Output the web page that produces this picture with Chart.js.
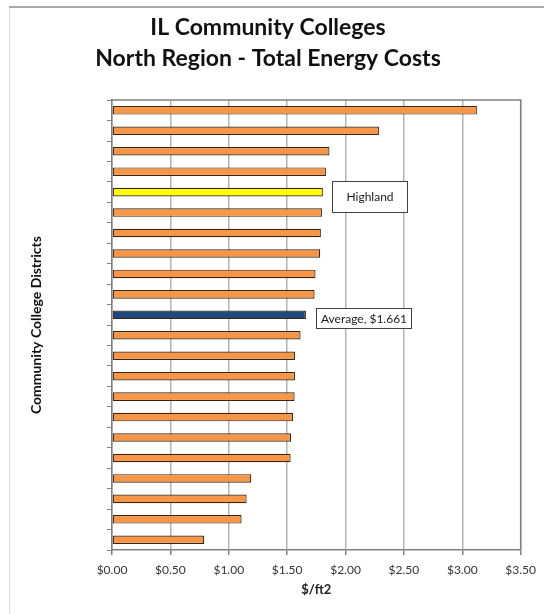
<!DOCTYPE html>
<html>
<head>
<meta charset="utf-8">
<script src="https://cdn.jsdelivr.net/npm/chart.js@4/dist/chart.umd.min.js"></script>
<style>
  html, body { margin: 0; padding: 0; background: #ffffff; }
  #wrap { width: 544px; height: 614px; position: relative; }
</style>
</head>
<body>
<div id="wrap"><canvas id="c" width="544" height="614"></canvas></div>
<script>
// ---- Data ----
const categories = [
  'District 1', 'District 2', 'District 3', 'District 4', 'Highland',
  'District 6', 'District 7', 'District 8', 'District 9', 'District 10',
  'Average', 'District 12', 'District 13', 'District 14', 'District 15',
  'District 16', 'District 17', 'District 18', 'District 19', 'District 20',
  'District 21', 'District 22'
];
const costPerSqFt = [
  3.125, 2.286, 1.863, 1.832, 1.806,
  1.798, 1.789, 1.783, 1.743, 1.735,
  1.661, 1.615, 1.567, 1.567, 1.564,
  1.550, 1.533, 1.530, 1.193, 1.153,
  1.110, 0.790
];
const xTickValues = [0, 0.5, 1.0, 1.5, 2.0, 2.5, 3.0, 3.5];
const annotatedLabels = { 'Highland': 'Highland', 'Average': 'Average, $1.661' };
const chartTitle = ['IL Community Colleges', 'North Region - Total Energy Costs'];
const xAxisTitle = '$/ft2';
const yAxisTitle = 'Community College Districts';

// ---- Styles ----
const ORANGE = '#F79646', YELLOW = '#FFFF00', NAVY = '#1F497D';
const barColors = categories.map(c => c === 'Highland' ? YELLOW : (c === 'Average' ? NAVY : ORANGE));
const FONT = 'Lato, "Open Sans", "Liberation Sans", sans-serif';

const framePlugin = {
  id: 'framePlugin',
  beforeDraw(chart) {
    const ctx = chart.ctx;
    ctx.save();
    ctx.fillStyle = '#ffffff';
    ctx.fillRect(0, 0, chart.width, chart.height);
    ctx.strokeStyle = '#dcdcdc';
    ctx.lineWidth = 1;
    ctx.beginPath();
    ctx.moveTo(9.5, 7); ctx.lineTo(9.5, chart.height);
    ctx.stroke();
    ctx.strokeStyle = '#a8a8a8';
    ctx.lineWidth = 2;
    ctx.beginPath();
    ctx.moveTo(9, 7); ctx.lineTo(chart.width, 7);
    ctx.stroke();
    ctx.restore();
  },
  afterDatasetsDraw(chart) {
    const ctx = chart.ctx;
    const a = chart.chartArea;
    ctx.save();
    // plot area border (top + right)
    ctx.strokeStyle = '#808080';
    ctx.lineWidth = 1.5;
    ctx.beginPath();
    ctx.moveTo(a.left, a.top); ctx.lineTo(a.right, a.top); ctx.lineTo(a.right, a.bottom);
    ctx.stroke();
    // annotation boxes attached to bars
    const meta = chart.getDatasetMeta(0);
    ctx.font = '12px ' + FONT;
    ctx.textBaseline = 'middle';
    ctx.textAlign = 'center';
    categories.forEach((cat, i) => {
      const label = annotatedLabels[cat];
      if (!label) return;
      const el = meta.data[i];
      const tw = ctx.measureText(label).width;
      let w, h, dy, gap;
      if (cat === 'Highland') { w = 75; h = 31; dy = 4; gap = 9; }
      else { w = Math.max(95, tw + 8); h = 20; dy = 3; gap = 10; }
      const x0 = Math.round(el.x + gap) + 0.5;
      const y0 = Math.round(el.y + dy - h / 2) + 0.5;
      ctx.fillStyle = '#ffffff';
      ctx.fillRect(x0, y0, w, h);
      ctx.strokeStyle = '#404040';
      ctx.lineWidth = 1;
      ctx.strokeRect(x0, y0, w, h);
      ctx.fillStyle = '#1a1a1a';
      ctx.fillText(label, x0 + w / 2, y0 + h / 2 + 0.5);
    });
    ctx.restore();
  }
};

new Chart(document.getElementById('c'), {
  type: 'bar',
  data: {
    labels: categories,
    datasets: [{
      data: costPerSqFt,
      backgroundColor: barColors,
      borderColor: '#3a2410',
      borderWidth: 1.2,
      borderSkipped: false,
      barPercentage: 0.42,
      categoryPercentage: 1.0
    }]
  },
  options: {
    indexAxis: 'y',
    responsive: false,
    animation: false,
    devicePixelRatio: 1,
    layout: { padding: { left: 15, right: 23, top: 0, bottom: 0 } },
    plugins: {
      legend: { display: false },
      tooltip: { enabled: false },
      title: {
        display: true,
        text: chartTitle,
        color: '#111111',
        font: { family: FONT, size: 23, weight: 'bold', lineHeight: 1.35 },
        padding: { top: 12, bottom: 26 }
      }
    },
    scales: {
      x: {
        type: 'linear',
        min: 0,
        max: 3.5,
        afterBuildTicks(scale) { scale.ticks = xTickValues.map(v => ({ value: v })); },
        afterFit(scale) { scale.height = 64; },
        grid: {
          color: '#b4b4b4',
          lineWidth: 1.5,
          tickLength: 5,
          tickColor: '#808080'
        },
        border: { color: '#808080', width: 1.5 },
        ticks: {
          color: '#333333',
          font: { family: FONT, size: 12 },
          padding: 8,
          maxRotation: 0,
          callback: v => '$' + Number(v).toFixed(2)
        },
        title: {
          display: true,
          text: xAxisTitle,
          color: '#222222',
          font: { family: FONT, size: 13, weight: 'bold' },
          padding: { top: 0, bottom: 16 }
        }
      },
      y: {
        type: 'category',
        afterFit(scale) { scale.width = 97; },
        grid: {
          offset: true,
          drawOnChartArea: false,
          drawTicks: true,
          tickLength: 5,
          tickColor: '#808080',
          lineWidth: 1
        },
        border: { color: '#808080', width: 1.5 },
        ticks: { display: false },
        title: {
          display: true,
          text: yAxisTitle,
          color: '#111111',
          font: { family: FONT, size: 14, weight: 'bold' },
          padding: { top: 13, bottom: 0 }
        }
      }
    }
  },
  plugins: [framePlugin]
});
</script>
</body>
</html>
